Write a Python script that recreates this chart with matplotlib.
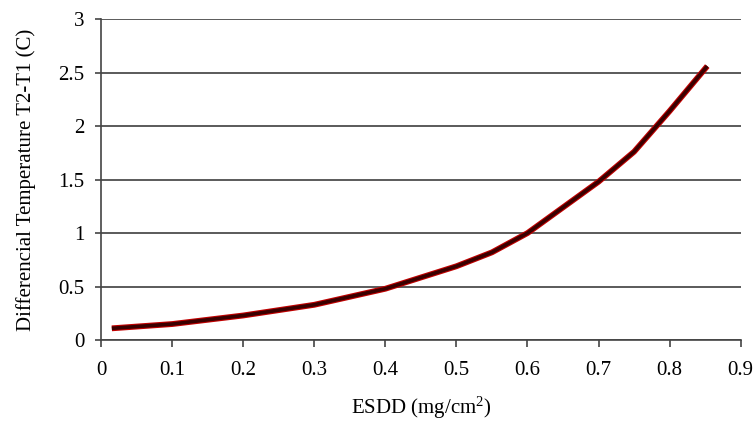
import numpy as np
import matplotlib.pyplot as plt

# values
esdd = [0.015, 0.1, 0.2, 0.3, 0.4, 0.5, 0.55, 0.6, 0.7, 0.75, 0.8, 0.853]
dtemp = [0.11, 0.15, 0.23, 0.33, 0.48, 0.69, 0.82, 1.0, 1.48, 1.76, 2.14, 2.56]

x_ticks = [0, 0.1, 0.2, 0.3, 0.4, 0.5, 0.6, 0.7, 0.8, 0.9]
x_labels = ["0", "0.1", "0.2", "0.3", "0.4", "0.5", "0.6", "0.7", "0.8", "0.9"]
y_ticks = [0, 0.5, 1, 1.5, 2, 2.5, 3]
y_labels = ["0", "0.5", "1", "1.5", "2", "2.5", "3"]

plt.rcParams['font.family'] = ['Liberation Serif', 'DejaVu Serif']
plt.rcParams['mathtext.fontset'] = 'custom'
plt.rcParams['mathtext.rm'] = 'Liberation Serif'

fig = plt.figure(figsize=(7.55, 4.23), dpi=100)
axs = fig.add_axes([0.134, 0.196, 0.847, 0.759])

# red halo with dark core, like the original
axs.plot(esdd, dtemp, color="#c00000", lw=4.2, solid_capstyle="butt", zorder=3)
axs.plot(esdd, dtemp, color="#3a0000", lw=2.6, solid_capstyle="butt", zorder=4)

axs.set_xlim(0, 0.9)
axs.set_ylim(0, 3)
axs.set_xticks(x_ticks)
axs.set_xticklabels(x_labels, fontsize=15)
axs.set_yticks(y_ticks)
axs.set_yticklabels(y_labels, fontsize=15)

axs.yaxis.grid(True, color="#5a5a5a", lw=1.4)
axs.set_axisbelow(True)

for side in ["top", "right"]:
    axs.spines[side].set_visible(False)
for side in ["left", "bottom"]:
    axs.spines[side].set_color("#444444")
    axs.spines[side].set_linewidth(1.2)

axs.tick_params(axis="x", direction="out", length=5, width=1.2, color="#444444", pad=10)
axs.tick_params(axis="y", direction="out", length=4, width=1.2, color="#444444", pad=8)

axs.set_xlabel("ESDD (mg/cm$\\mathregular{^2}$)", fontsize=15, labelpad=11)
axs.set_ylabel("Differencial Temperature T2-T1 (C)", fontsize=15, labelpad=16)

fig.savefig("out.png", dpi=100)
